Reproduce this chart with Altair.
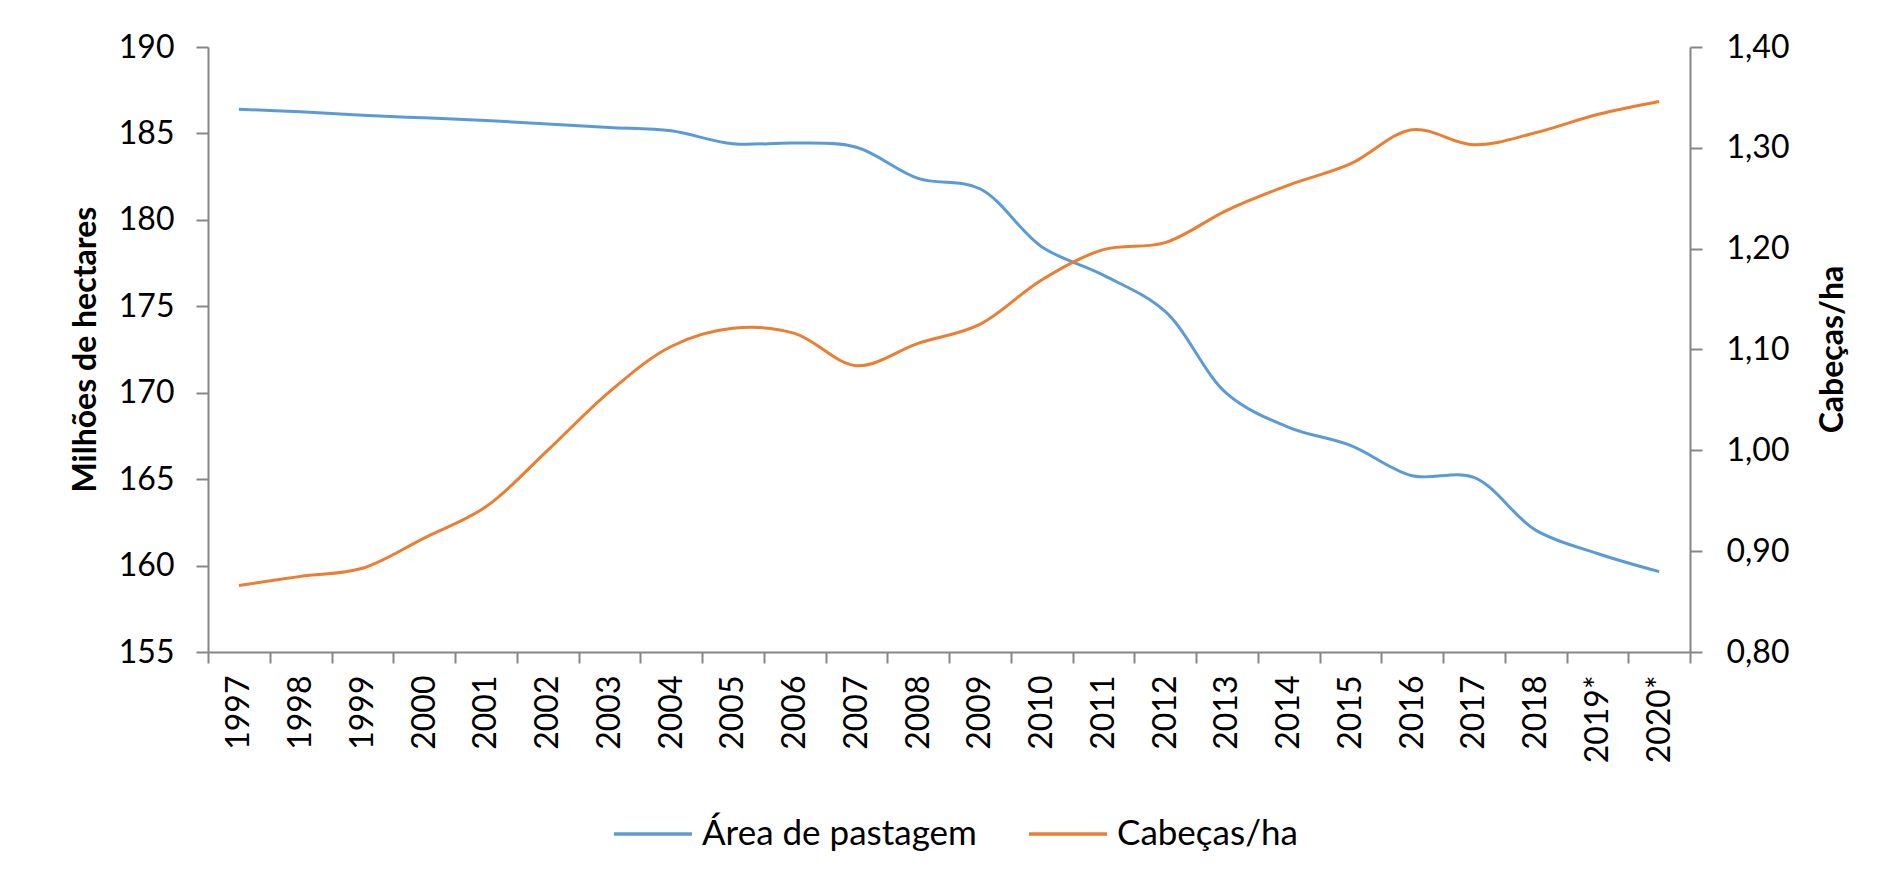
import altair as alt
import pandas as pd

anos = ["1997", "1998", "1999", "2000", "2001", "2002", "2003", "2004", "2005",
        "2006", "2007", "2008", "2009", "2010", "2011", "2012", "2013", "2014",
        "2015", "2016", "2017", "2018", "2019*", "2020*"]

area_pastagem = [186.4, 186.25, 186.05, 185.9, 185.75, 185.55, 185.35, 185.15,
                 184.4, 184.45, 184.2, 182.4, 181.8, 178.45, 176.8, 174.7,
                 169.95, 168.0, 166.95, 165.2, 165.1, 162.05, 160.7, 159.65]

cabecas_ha = [0.866, 0.875, 0.883, 0.913, 0.944, 1.000, 1.058, 1.103, 1.121,
              1.116, 1.084, 1.106, 1.125, 1.169, 1.199, 1.206, 1.238, 1.263,
              1.284, 1.318, 1.303, 1.315, 1.333, 1.346]

series = ["Área de pastagem", "Cabeças/ha"]
cores = ["#5B9BD5", "#ED7D31"]

left_ticks = [155, 160, 165, 170, 175, 180, 185, 190]
right_ticks = [0.8, 0.9, 1.0, 1.1, 1.2, 1.3, 1.4]

df = pd.DataFrame({"ano": anos, "area": area_pastagem, "cab": cabecas_ha})

FONT = "Lato"
AX = "#868686"

x_enc = alt.X(
    "ano:N", sort=anos, bandPosition=0.5,
    scale=alt.Scale(type="band", paddingInner=0, paddingOuter=0),
    axis=alt.Axis(
        title=None, labelAngle=270, tickBand="extent", labelFontSize=32,
        labelFont=FONT, labelColor="#000000", labelPadding=12, tickSize=11,
        domainColor=AX, tickColor=AX, domainWidth=2, tickWidth=2,
        labelOverlap=False,
    ),
)

color_scale = alt.Scale(domain=series, range=cores)
legend = alt.Legend(
    title=None, orient="none", direction="horizontal", legendX=404, legendY=746,
    symbolType="stroke", symbolSize=6084, symbolStrokeWidth=3.5,
    labelFont=FONT, labelFontSize=35, labelColor="#000000", labelOffset=8,
    labelLimit=1000, columnPadding=45, padding=0,
)

area_line = alt.Chart(df).transform_calculate(serie="'Área de pastagem'").mark_line(
    strokeWidth=3, interpolate="catmull-rom"
).encode(
    x=x_enc,
    y=alt.Y(
        "area:Q",
        scale=alt.Scale(domain=[155, 190], nice=False, zero=False),
        axis=alt.Axis(
            title="Milhões de hectares", values=left_ticks, format="d", grid=False,
            labelFont=FONT, labelFontSize=32, labelColor="#000000", labelPadding=22,
            tickSize=12, domainColor=AX, tickColor=AX, domainWidth=2, tickWidth=2,
            titleFont=FONT, titleFontSize=32, titleFontWeight="bold", titleColor="#000000",
            titleAngle=270, titleBaseline="alphabetic", titleAlign="center",
            titleX=-113, titleY=302,
        ),
    ),
    color=alt.Color("serie:N", scale=color_scale, legend=legend),
)

cab_line = alt.Chart(df).transform_calculate(serie="'Cabeças/ha'").mark_line(
    strokeWidth=3, interpolate="catmull-rom"
).encode(
    x=x_enc,
    y=alt.Y(
        "cab:Q",
        scale=alt.Scale(domain=[0.8, 1.4], nice=False, zero=False),
        axis=alt.Axis(
            title="Cabeças/ha", orient="right", values=right_ticks, grid=False,
            labelExpr="replace(format(datum.value, '.2f'), '.', ',')",
            labelFont=FONT, labelFontSize=32, labelColor="#000000", labelPadding=24,
            tickSize=12, domainColor=AX, tickColor=AX, domainWidth=2, tickWidth=2,
            titleFont=FONT, titleFontSize=32, titleFontWeight="bold", titleColor="#000000",
            titleAngle=270, titleBaseline="alphabetic", titleAlign="center",
            titleX=152, titleY=302,
        ),
    ),
    color=alt.Color("serie:N", scale=color_scale, legend=legend),
)

chart = alt.layer(area_line, cab_line).resolve_scale(
    y="independent", color="shared"
).properties(
    width=1482, height=605,
    autosize=alt.AutoSizeParams(type="none"),
    padding={"left": 200, "top": 39, "right": 185, "bottom": 222},
    background="#ffffff",
).configure_view(stroke=None)

chart.save("out.html", embed_options={"renderer": "svg", "actions": False})
